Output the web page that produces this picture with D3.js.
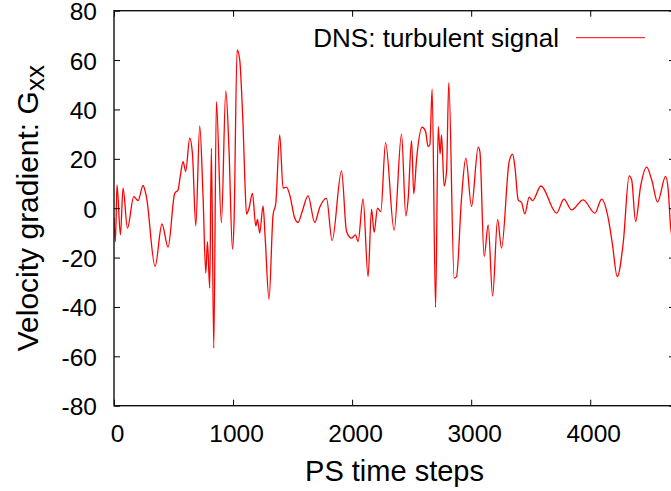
<!DOCTYPE html>
<html lang="en">
<head>
    <meta charset="UTF-8">
    <title>Velocity gradient signal</title>
    <style>
        body { margin: 0; background: #fff; }
        svg { display: block; }
        text { font-family: "Liberation Sans", Arial, Helvetica, sans-serif; fill: #000; }
        .tick-label { font-size: 24.5px; }
        .axis-label { font-size: 29px; }
        .legend-label { font-size: 26px; }
    </style>
</head>
<body>

    <svg width="671" height="491"></svg>

    <script src="https://cdn.jsdelivr.net/npm/d3@7"></script>

    <script>

        // PS time step of each sample
        const steps = [
            0, 12, 25, 54, 76, 113, 166, 202, 244, 272,
            345, 403, 454, 510, 538, 558, 580, 602, 636, 659,
            687, 720, 748, 771, 785, 804, 818, 838, 860, 902,
            939, 966, 995, 1008, 1034, 1056, 1071, 1084, 1098, 1113,
            1134, 1163, 1191, 1205, 1224, 1252, 1269, 1302, 1336, 1359,
            1392, 1420, 1449, 1476, 1518, 1546, 1580, 1630, 1686, 1728,
            1785, 1832, 1911, 1953, 1995, 2028, 2050, 2092, 2134, 2163,
            2185, 2213, 2241, 2281, 2353, 2415, 2451, 2471, 2499, 2518,
            2541, 2588, 2617, 2638, 2653, 2672, 2701, 2723, 2739, 2751,
            2773, 2793, 2812, 2857, 2877, 2919, 2955, 3003, 3059, 3073,
            3109, 3143, 3180, 3222, 3255, 3319, 3348, 3367, 3395, 3423,
            3451, 3487, 3516, 3586, 3717, 3779, 3843, 3941, 4039, 4096,
            4151, 4185, 4227, 4277, 4327, 4348, 4381, 4423, 4474, 4516,
            4566, 4633, 4655, 4675, 4700
        ];

        // Velocity gradient G_xx (DNS turbulent signal)
        const gxx = [
            -4, -13.5, 9.4, -10.8, 8.1, -8.1, 4.7, 3.1, 9.2, 4.7,
            -23.6, -6.4, -15.8, 6.0, 7.4, 13.5, 18.9, 14.9, 28.4, 22,
            -7.2, 33.3, 4.7, -26.3, -13.5, -32.4, 24.3, -56.7, 43.2, -5.9,
            47.5, 23.6, -16.6, -6.1, 64.1, 60.1, 48, 33.8, 12.9, -2.4,
            0, 6.0, -7.2, -4.5, -10.1, 0.9, -11.3, -36.9, -2.7, 2.0,
            29.7, 8.1, 8.5, 5.4, -4.0, -5.8, -1.4, 5.0, -5.8, 0.4,
            4.0, -13.1, 15.1, -9.4, -12.1, -10.8, -13.5, 3.8, -27.7, -0.4,
            -9.8, 0, -1.4, 26.6, -9.0, 30, -3.1, 4.0, 27.4, 5.8,
            19.6, 32.8, 31.1, 25, 25.7, 48.2, -40.2, 33.1, 22, 29.7,
            9, 14.9, 50.9, -28.3, -27.7, 4.1, 20.3, 0.7, 24.7, 23,
            -19.6, -6.8, -35.6, -4.5, -16.2, 18.9, 21.9, 16.9, 3.4, 2.3,
            -2.3, 4.5, 3.1, 9.0, -2.0, 3.7, -0.7, 3.4, -2.0, 3.7,
            -4.0, -14.1, -27.7, -14.1, 13.1, 11.5, -5.4, 8.8, 16.6, 11.5,
            2.5, 12.9, 7.4, -7.4, -14
        ];

        const xTickValues = [0, 1000, 2000, 3000, 4000];
        const yTickValues = [-80, -60, -40, -20, 0, 20, 40, 60, 80];

        const xLabel = 'PS time steps';
        const yLabel = 'Velocity gradient: G';
        const yLabelSub = 'xx';
        const legendLabel = 'DNS: turbulent signal';

        const data = steps.map(function (s, i) {
            return { step: s, value: gxx[i] };
        });

        // plot frame (right edge falls just outside the window)
        const plot = { left: 114, right: 675, top: 10.7, bottom: 405.7 };
        const tickLen = 6;

        const xScale = d3.scaleLinear()
            .domain([0, 4712])
            .range([plot.left, plot.right]);

        const yScale = d3.scaleLinear()
            .domain([-80, 80])
            .range([plot.bottom, plot.top]);

        const svg = d3.select('svg');

        svg.append('defs')
            .append('clipPath')
            .attr('id', 'plot-clip')
            .append('rect')
            .attr('x', plot.left)
            .attr('y', plot.top)
            .attr('width', plot.right - plot.left)
            .attr('height', plot.bottom - plot.top);

        // the signal
        const line = d3.line()
            .x(function (d) { return xScale(d.step); })
            .y(function (d) { return yScale(d.value); })
            .curve(d3.curveMonotoneX);

        svg.append('path')
            .attr('clip-path', 'url(#plot-clip)')
            .attr('fill', 'none')
            .attr('stroke', '#ff0000')
            .attr('stroke-width', 1.3)
            .attr('stroke-linejoin', 'round')
            .attr('d', line(data));

        // axes: gnuplot style, ticks pointing inward and mirrored
        const xAxisBottom = d3.axisBottom(xScale)
            .tickValues(xTickValues)
            .tickSize(-tickLen)
            .tickFormat('');
        const xAxisTop = d3.axisTop(xScale)
            .tickValues(xTickValues)
            .tickSize(-tickLen)
            .tickFormat('');
        const yAxisLeft = d3.axisLeft(yScale)
            .tickValues(yTickValues)
            .tickSize(-tickLen)
            .tickFormat('');
        const yAxisRight = d3.axisRight(yScale)
            .tickValues(yTickValues)
            .tickSize(-tickLen)
            .tickFormat('');

        const axes = [
            [xAxisBottom, 'translate(0,' + plot.bottom + ')'],
            [xAxisTop, 'translate(0,' + plot.top + ')'],
            [yAxisLeft, 'translate(' + plot.left + ',0)'],
            [yAxisRight, 'translate(' + plot.right + ',0)']
        ];

        axes.forEach(function (a) {
            const g = svg.append('g')
                .attr('transform', a[1])
                .call(a[0]);
            g.select('.domain').remove();
            g.selectAll('.tick line').attr('stroke', '#000').attr('stroke-width', 1);
        });

        svg.append('rect')
            .attr('x', plot.left)
            .attr('y', plot.top)
            .attr('width', plot.right - plot.left)
            .attr('height', plot.bottom - plot.top)
            .attr('fill', 'none')
            .attr('stroke', '#111')
            .attr('stroke-width', 1.4);

        // tick labels
        svg.append('g')
            .selectAll('text')
            .data(xTickValues)
            .join('text')
            .attr('class', 'tick-label')
            .attr('x', function (d) { return xScale(d) + 3.5; })
            .attr('y', 441.5)
            .attr('text-anchor', 'middle')
            .text(function (d) { return d; });

        svg.append('g')
            .selectAll('text')
            .data(yTickValues)
            .join('text')
            .attr('class', 'tick-label')
            .attr('x', 97)
            .attr('y', function (d) { return yScale(d) + 9.5; })
            .attr('text-anchor', 'end')
            .text(function (d) { return d; });

        // axis labels
        svg.append('text')
            .attr('class', 'axis-label')
            .attr('x', (plot.left + plot.right) / 2)
            .attr('y', 481)
            .attr('text-anchor', 'middle')
            .text(xLabel);

        const yLab = svg.append('text')
            .attr('class', 'axis-label')
            .style('font-size', '30px')
            .attr('transform', 'translate(38,' + ((plot.top + plot.bottom) / 2) + ') rotate(-90)')
            .attr('text-anchor', 'middle');
        yLab.append('tspan').text(yLabel);
        yLab.append('tspan')
            .attr('dy', 6)
            .style('font-size', '26px')
            .text(yLabelSub);

        // legend
        svg.append('text')
            .attr('class', 'legend-label')
            .attr('x', 559)
            .attr('y', 47)
            .attr('text-anchor', 'end')
            .text(legendLabel);

        svg.append('line')
            .attr('x1', 576)
            .attr('x2', 645)
            .attr('y1', 37.7)
            .attr('y2', 37.7)
            .attr('stroke', '#ff0000')
            .attr('stroke-width', 1);

    </script>

</body>
</html>
